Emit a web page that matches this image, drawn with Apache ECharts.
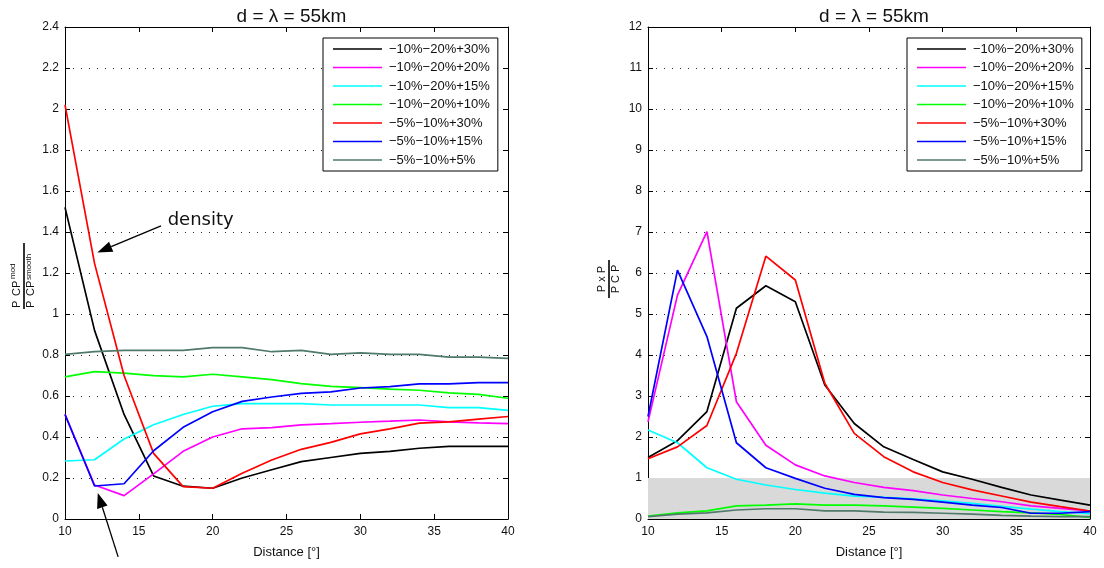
<!DOCTYPE html>
<html>
<head>
<meta charset="utf-8">
<script src="https://cdn.jsdelivr.net/npm/echarts@6/dist/echarts.min.js"></script>
<style>
  html, body { margin: 0; padding: 0; background: #fff; }
  #chart { width: 1104px; height: 568px; }
</style>
</head>
<body>
<div id="chart"></div>
<script>
// Distance grid (degrees)
const distance = [10, 12, 14, 16, 18, 20, 22, 24, 26, 28, 30, 32, 34, 36, 38, 40];

const seriesNames = ['−10%−20%+30%', '−10%−20%+20%', '−10%−20%+15%', '−10%−20%+10%',
                     '−5%−10%+30%', '−5%−10%+15%', '−5%−10%+5%'];
const seriesColors = ['#000000', '#ff00ff', '#00ffff', '#00ff00', '#ff0000', '#0000ff', '#4f7a6a'];

// Left panel: density ratio P_CP^mod / P_CP^smooth
const ratioA30 = [1.52, 0.92, 0.51, 0.21, 0.16, 0.15, 0.20, 0.24, 0.28, 0.30, 0.32, 0.33, 0.345, 0.354, 0.354, 0.354];
const ratioA20 = [0.51, 0.166, 0.114, 0.22, 0.33, 0.40, 0.44, 0.446, 0.459, 0.465, 0.472, 0.477, 0.483, 0.474, 0.469, 0.465];
const ratioA15 = [0.283, 0.289, 0.39, 0.46, 0.51, 0.55, 0.563, 0.563, 0.563, 0.556, 0.556, 0.556, 0.556, 0.543, 0.543, 0.53];
const ratioA10 = [0.693, 0.719, 0.712, 0.699, 0.693, 0.706, 0.693, 0.68, 0.66, 0.647, 0.641, 0.634, 0.628, 0.615, 0.608, 0.589];
const ratioB30 = [2.02, 1.247, 0.70, 0.32, 0.158, 0.15, 0.223, 0.288, 0.34, 0.374, 0.415, 0.44, 0.468, 0.474, 0.487, 0.50];
const ratioB15 = [0.51, 0.161, 0.172, 0.333, 0.447, 0.523, 0.574, 0.595, 0.613, 0.62, 0.639, 0.646, 0.659, 0.659, 0.665, 0.665];
const ratioB05 = [0.803, 0.816, 0.823, 0.823, 0.823, 0.836, 0.836, 0.816, 0.823, 0.803, 0.81, 0.803, 0.803, 0.79, 0.79, 0.784];

// Right panel: P_xP / P_CP
const crossA30 = [1.50, 1.91, 2.62, 5.14, 5.69, 5.30, 3.27, 2.33, 1.76, 1.45, 1.15, 0.97, 0.77, 0.585, 0.46, 0.34];
const crossA20 = [2.37, 5.46, 7.01, 2.86, 1.80, 1.32, 1.05, 0.89, 0.77, 0.69, 0.585, 0.50, 0.42, 0.32, 0.26, 0.195];
const crossA15 = [2.17, 1.86, 1.25, 0.97, 0.83, 0.72, 0.63, 0.56, 0.53, 0.49, 0.44, 0.38, 0.31, 0.24, 0.18, 0.13];
const crossA10 = [0.07, 0.15, 0.20, 0.32, 0.34, 0.37, 0.34, 0.34, 0.32, 0.29, 0.26, 0.22, 0.18, 0.15, 0.11, 0.04];
const crossB30 = [1.47, 1.76, 2.28, 4.04, 6.41, 5.83, 3.31, 2.09, 1.52, 1.15, 0.89, 0.71, 0.56, 0.41, 0.30, 0.195];
const crossB15 = [2.50, 6.07, 4.45, 1.86, 1.25, 0.99, 0.75, 0.60, 0.52, 0.48, 0.41, 0.34, 0.28, 0.14, 0.14, 0.18];
const crossB05 = [0.06, 0.12, 0.15, 0.22, 0.25, 0.25, 0.20, 0.20, 0.17, 0.16, 0.14, 0.12, 0.09, 0.07, 0.06, 0.06];

const leftValues = [ratioA30, ratioA20, ratioA15, ratioA10, ratioB30, ratioB15, ratioB05];
const rightValues = [crossA30, crossA20, crossA15, crossA10, crossB30, crossB15, crossB05];

// Shaded reference band on the right panel (y range)
const bandRange = [0, 1];

// Axis settings
const xRange = [10, 40, 5];
const leftYRange = [0, 2.4, 0.2];
const rightYRange = [0, 12, 1];

const titleText = 'd = λ = 55km';
const xName = 'Distance [°]';

const FONT = '"Liberation Sans", Arial, Helvetica, sans-serif';

function pairs(vals) {
  return distance.map((d, i) => [d, vals[i]]);
}

function xAxisPair(gridIndex) {
  const base = {
    type: 'value', gridIndex: gridIndex,
    min: xRange[0], max: xRange[1], interval: xRange[2],
    axisLine: { show: true, onZero: false, lineStyle: { color: '#000', width: 1 } },
    axisTick: { show: true, inside: true, length: 5, lineStyle: { color: '#000' } },
    splitLine: { show: false }
  };
  return [
    Object.assign({}, base, {
      position: 'bottom',
      name: xName, nameLocation: 'middle', nameGap: 27,
      nameTextStyle: { fontFamily: FONT, fontSize: 13, color: '#111' },
      axisLabel: { show: true, margin: 7, fontFamily: FONT, fontSize: 12, color: '#111' }
    }),
    Object.assign({}, base, { position: 'top', axisLabel: { show: false } })
  ];
}

function yAxisPair(gridIndex, range) {
  const base = {
    type: 'value', gridIndex: gridIndex,
    min: range[0], max: range[1], interval: range[2],
    axisLine: { show: true, onZero: false, lineStyle: { color: '#000', width: 1 } },
    axisTick: { show: true, inside: true, length: 5, lineStyle: { color: '#000' } }
  };
  return [
    Object.assign({}, base, {
      position: 'left',
      axisLabel: { show: true, margin: 6, fontFamily: FONT, fontSize: 12, color: '#111' },
      splitLine: { show: true, lineStyle: { color: '#222', width: 1, type: [1, 7] } }
    }),
    Object.assign({}, base, { position: 'right', axisLabel: { show: false }, splitLine: { show: false } })
  ];
}

const series = [];
// band drawn first, beneath the curves
series.push({
  type: 'line', xAxisIndex: 2, yAxisIndex: 2, data: [], silent: true, z: 1,
  markArea: {
    silent: true,
    itemStyle: { color: '#d9d9d9' },
    data: [[{ coord: [xRange[0], bandRange[0]] }, { coord: [xRange[1], bandRange[1]] }]]
  }
});
seriesNames.forEach((name, k) => {
  const common = {
    type: 'line', name: name, showSymbol: false, symbol: 'none', z: 3,
    color: seriesColors[k],
    lineStyle: { width: 1.7, color: seriesColors[k] },
    emphasis: { disabled: true },
    animation: false
  };
  series.push(Object.assign({}, common, { xAxisIndex: 0, yAxisIndex: 0, data: pairs(leftValues[k]) }));
  series.push(Object.assign({}, common, { xAxisIndex: 2, yAxisIndex: 2, data: pairs(rightValues[k]) }));
});

function legendAt(left) {
  return {
    data: seriesNames, orient: 'vertical', left: left, top: 38,
    icon: 'rect', itemWidth: 49, itemHeight: 1.6, itemGap: 4.5,
    padding: [4, 8, 4, 10],
    borderColor: '#000', borderWidth: 1, backgroundColor: '#fff',
    textStyle: { fontFamily: FONT, fontSize: 13, color: '#111', lineHeight: 14, padding: [0, 0, 0, 2] },
    selectedMode: false
  };
}

const chart = echarts.init(document.getElementById('chart'), null, { renderer: 'canvas' });

chart.setOption({
  animation: false,
  backgroundColor: '#fff',
  title: [
    { text: titleText, left: 286.5, top: 2, textAlign: 'center',
      textStyle: { fontFamily: FONT, fontSize: 19, fontWeight: 'normal', color: '#111' } },
    { text: titleText, left: 869, top: 2, textAlign: 'center',
      textStyle: { fontFamily: FONT, fontSize: 19, fontWeight: 'normal', color: '#111' } }
  ],
  legend: [legendAt(323), legendAt(907)],
  grid: [
    { left: 65, right: 596, top: 27, bottom: 49, containLabel: false },
    { left: 648, right: 14, top: 27, bottom: 49, containLabel: false }
  ],
  xAxis: xAxisPair(0).concat(xAxisPair(1)),
  yAxis: yAxisPair(0, leftYRange).concat(yAxisPair(1, rightYRange)),
  series: series
});

// Annotation arrows, anchored in the left panel's data coordinates
const densityArrow = { from: [16.5, 1.43], to: [12.19, 1.30] };
const lowerArrow = { from: [13.6, -0.185], to: [12.22, 0.127] };
const densityLabelAt = [16.95, 1.455];

function toPx(pt) {
  return chart.convertToPixel({ xAxisIndex: 0, yAxisIndex: 0 }, pt);
}

function arrowElements(arrow) {
  const a = toPx(arrow.from), b = toPx(arrow.to);
  const dx = b[0] - a[0], dy = b[1] - a[1];
  const len = Math.sqrt(dx * dx + dy * dy);
  const ux = dx / len, uy = dy / len;
  const headLen = 15, headHalf = 5.5;
  const bx = b[0] - ux * headLen, by = b[1] - uy * headLen;
  const nx = -uy, ny = ux;
  return [
    { type: 'line', shape: { x1: a[0], y1: a[1], x2: bx, y2: by },
      style: { stroke: '#000', lineWidth: 1.3 }, silent: true },
    { type: 'polygon',
      shape: { points: [[b[0], b[1]], [bx + nx * headHalf, by + ny * headHalf], [bx - nx * headHalf, by - ny * headHalf]] },
      style: { fill: '#000' }, silent: true }
  ];
}

const labelPx = toPx(densityLabelAt);

const graphics = []
  .concat(arrowElements(densityArrow))
  .concat(arrowElements(lowerArrow))
  .concat([
    { type: 'text', x: labelPx[0], y: labelPx[1], silent: true,
      style: { text: 'density', font: '18px "DejaVu Sans", sans-serif', fill: '#111',
               textAlign: 'left', textVerticalAlign: 'middle' } },
    // left y-axis label: P_CP^mod / P_CP^smooth (rotated)
    { type: 'group', x: 24, y: 276, rotation: Math.PI / 2, silent: true,
      children: [
        { type: 'line', shape: { x1: -33, y1: 0, x2: 33, y2: 0 }, style: { stroke: '#000', lineWidth: 1.6 } },
        { type: 'text', x: -32, y: -1.5, style: { text: 'P', font: '11px ' + FONT, fill: '#111', textVerticalAlign: 'bottom' } },
        { type: 'text', x: -20, y: -1.5, style: { text: 'CP', font: '11px ' + FONT, fill: '#111', textVerticalAlign: 'bottom' } },
        { type: 'text', x: -3, y: -7, style: { text: 'mod', font: '8px ' + FONT, fill: '#111', textVerticalAlign: 'bottom' } },
        { type: 'text', x: -32, y: 1.5, style: { text: 'P', font: '11px ' + FONT, fill: '#111', textVerticalAlign: 'top' } },
        { type: 'text', x: -20, y: 1.5, style: { text: 'CP', font: '11px ' + FONT, fill: '#111', textVerticalAlign: 'top' } },
        { type: 'text', x: -4, y: 0.5, style: { text: 'smooth', font: '8px ' + FONT, fill: '#111', textVerticalAlign: 'top' } }
      ] },
    // right y-axis label: P_xP / P_CP (rotated)
    { type: 'group', x: 609, y: 279, rotation: Math.PI / 2, silent: true,
      children: [
        { type: 'line', shape: { x1: -19, y1: 0, x2: 19, y2: 0 }, style: { stroke: '#000', lineWidth: 1.6 } },
        { type: 'text', x: 0, y: -1.5, style: { text: 'P x P', font: '11px ' + FONT, fill: '#111', textAlign: 'center', textVerticalAlign: 'bottom' } },
        { type: 'text', x: 0, y: 1.5, style: { text: 'P C P', font: '11px ' + FONT, fill: '#111', textAlign: 'center', textVerticalAlign: 'top' } }
      ] }
  ]);

chart.setOption({ graphic: graphics });
</script>
</body>
</html>
